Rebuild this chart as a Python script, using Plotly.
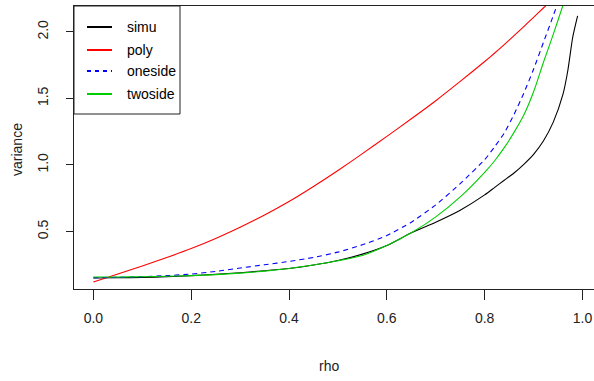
import plotly.graph_objects as go

rho = [0, 0.05, 0.1, 0.15, 0.2, 0.25, 0.3, 0.35, 0.4, 0.45, 0.5, 0.55, 0.6,
       0.65, 0.7, 0.75, 0.8, 0.82, 0.84, 0.86, 0.88, 0.9, 0.92, 0.94, 0.96,
       0.97, 0.98, 0.99]

simu = [0.150, 0.152, 0.155, 0.160, 0.168, 0.178, 0.190, 0.205, 0.222, 0.248,
        0.282, 0.330, 0.395, 0.490, 0.570, 0.660, 0.775, 0.830, 0.885, 0.940,
        1.005, 1.080, 1.180, 1.320, 1.530, 1.710, 1.960, 2.120]
poly = [0.120, 0.180, 0.240, 0.304, 0.372, 0.448, 0.532, 0.624, 0.725, 0.838,
        0.958, 1.085, 1.215, 1.347, 1.483, 1.628, 1.778, 1.840, 1.905, 1.972,
        2.040, 2.110, 2.180, 2.250, 2.320, 2.355, 2.390, 2.425]
oneside = [0.152, 0.155, 0.160, 0.168, 0.180, 0.200, 0.225, 0.250, 0.275, 0.305,
           0.345, 0.400, 0.470, 0.570, 0.700, 0.860, 1.040, 1.135, 1.240, 1.380,
           1.540, 1.720, 1.920, 2.120, 2.330, 2.440, 2.560, 2.700]
twoside = [0.158, 0.158, 0.160, 0.163, 0.168, 0.176, 0.187, 0.202, 0.222, 0.248,
           0.280, 0.320, 0.395, 0.490, 0.610, 0.760, 0.945, 1.030, 1.130, 1.245,
           1.375, 1.550, 1.770, 1.980, 2.200, 2.320, 2.450, 2.600]

series_names = ["simu", "poly", "oneside", "twoside"]
series_values = [simu, poly, oneside, twoside]
series_colors = ["#000000", "#FF0000", "#0000FF", "#00CD00"]
series_dash = ["solid", "solid", "5px,4px", "solid"]

x_ticks = [0.0, 0.2, 0.4, 0.6, 0.8, 1.0]
y_ticks = [0.5, 1.0, 1.5, 2.0]

W, H = 594, 381
L, R, T, B = 74, 0, 6, 92
pw, ph = W - L - R, H - T - B

def px(x):
    return (x - L) / pw

def py(y):
    return (H - B - y) / ph

FONT = "Liberation Sans, Arial, sans-serif"
fig = go.Figure()
for name, vals, col, dash in zip(series_names, series_values, series_colors, series_dash):
    fig.add_trace(go.Scatter(x=rho, y=vals, mode="lines", name=name,
                             line=dict(color=col, width=1.1, dash=dash,
                                       shape="spline", smoothing=0.6),
                             showlegend=False))

# manual legend (R style)
shapes = [dict(type="rect", xref="paper", yref="paper",
               x0=px(74), x1=px(180), y0=py(114), y1=py(6),
               line=dict(color="#222", width=1), fillcolor="white", layer="above")]
annotations = []
row_y = [27, 50, 71, 94]
for i, (name, col, dash) in enumerate(zip(series_names, series_colors, series_dash)):
    shapes.append(dict(type="line", xref="paper", yref="paper",
                       x0=px(87), x1=px(112), y0=py(row_y[i]), y1=py(row_y[i]),
                       line=dict(color=col, width=2, dash="4px,4px" if dash != "solid" else "solid"),
                       layer="above"))
    annotations.append(dict(xref="paper", yref="paper", x=px(125), y=py(row_y[i]),
                            text=name, showarrow=False, xanchor="left", yanchor="middle",
                            font=dict(family=FONT, size=14, color="#000")))

annotations.append(dict(xref="paper", yref="paper", x=px(329), y=py(366), text="rho",
                        showarrow=False, xanchor="center", yanchor="middle",
                        font=dict(family=FONT, size=14, color="#222")))
annotations.append(dict(xref="paper", yref="paper", x=px(17), y=py(150), text="variance",
                        showarrow=False, xanchor="center", yanchor="middle", textangle=-90,
                        font=dict(family=FONT, size=14, color="#222")))

fig.update_layout(
    width=W, height=H,
    margin=dict(l=L, r=R, t=T, b=B, pad=0),
    paper_bgcolor="white", plot_bgcolor="white",
    shapes=shapes, annotations=annotations,
    xaxis=dict(range=[-0.0396, 1.0235], tickvals=x_ticks, tickformat=".1f",
               showgrid=False, zeroline=False, showline=True, linecolor="#222",
               linewidth=1, mirror=True, ticks="outside", ticklen=10, tickcolor="#222",
               tickfont=dict(family=FONT, size=14, color="#222"), ticklabelstandoff=6),
    yaxis=dict(range=[0.0677, 2.195], tickvals=y_ticks, tickformat=".1f",
               showgrid=False, zeroline=False, showline=True, linecolor="#222",
               linewidth=1, ticks="outside", ticklen=7, tickcolor="#222", tickangle=-90,
               tickfont=dict(family=FONT, size=14, color="#222"), ticklabelstandoff=12),
)
fig.write_html("out.html")
